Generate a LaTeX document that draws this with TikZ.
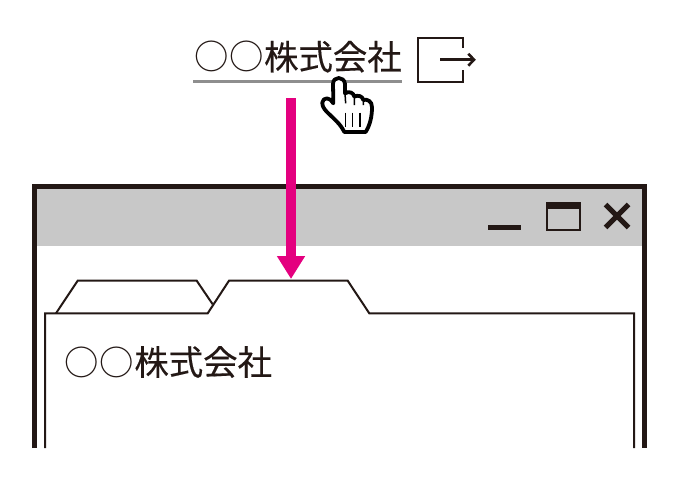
\documentclass[tikz,border=0pt]{standalone}
\usepackage{fontspec}
\newfontfamily\jpfont[FakeBold=0.35]{Noto Sans CJK JP}
\newfontfamily\jpcircle{Noto Sans CJK JP}
\usetikzlibrary{arrows.meta}
\definecolor{ink}{HTML}{231815}
\definecolor{barfill}{HTML}{C8C8C8}
\definecolor{linkline}{HTML}{8E8E8E}
\definecolor{magentaarrow}{HTML}{E4007F}
\tikzset{
  label text/.style={font=\fontsize{34.4}{36}\selectfont,text=ink,inner sep=0pt,anchor=center},
  thin ink/.style={draw=ink,line width=2pt,line join=miter},
  frame ink/.style={draw=ink,line width=5.3pt,line join=miter},
  icon ink/.style={draw=ink,line width=2pt},
  jump arrow/.style={draw=magentaarrow,line width=10.6pt,-{Triangle[length=23pt,width=26.7pt,fill=magentaarrow]}},
  hand outline/.style={draw=black,fill=white,line width=3.8pt,line join=round},
  hand crease/.style={draw=black,line width=1.5pt},
}
\newcommand{\companyname}{\kern-1pt{\jpcircle ○}\kern0.8pt{\jpcircle ○}\kern0.2pt{\jpfont 株式会社}}
\begin{document}
\begin{tikzpicture}[x=1pt,y=-1pt]
\useasboundingbox (0,0) rectangle (679,483);
% window
\fill[barfill] (37,189) rectangle (642,246.3);
\draw[frame ink] (34.7,448) -- (34.7,186.7) -- (644.3,186.7) -- (644.3,448);
% tabs
\draw[thin ink] (56,313.3) -- (77.7,280.7) -- (196.7,280.7) -- (212.7,304.3);
\draw[thin ink] (45,448) -- (45,313.3) -- (207.7,313.3) -- (229,280.7) -- (347.7,280.7) -- (369.3,313.3) -- (634,313.3) -- (634,448);
% window buttons
\fill[ink] (487.7,224.5) rectangle (520.7,230);
\draw[ink,line width=1.8pt] (546.9,203.2) rectangle (579.8,230.2);
\fill[ink] (546,202.3) rectangle (580.7,208.6);
\draw[ink,line width=5pt] (605.5,204.5) -- (628.5,227.5) (628.5,204.5) -- (605.5,227.5);
% link text
\node[label text] (link) at (298.5,56.7) {\companyname};
\node[label text] (page) at (168.8,362) {\companyname};
\draw[linkline,line width=3pt] (193,81) -- (401.7,81);
% external-link icon
\draw[icon ink] (462.7,48) -- (462.7,37.7) -- (418.3,37.7) -- (418.3,81.7) -- (462.7,81.7) -- (462.7,70);
\coordinate (exitstart) at (440,59.7);
\coordinate (exittip) at (474,59.7);
\draw[ink,line width=3.4pt] (exitstart) -- (exittip);
\draw[ink,line width=2.6pt,line join=miter] (468.3,53.7) -- (exittip) -- (468.3,65.7);
% arrow
\coordinate (arrowstart) at (291,98);
\coordinate (arrowend) at (291,279);
\draw[jump arrow] (arrowstart) -- (arrowend);
% hand
\begin{scope}[shift={(315,70)},x=0.3333pt,y=-0.3333pt]
\draw[hand outline] (55,92) -- (54,42) .. controls (54,18) and (88,18) .. (90,42) -- (90,70)
  .. controls (102,62) and (116,68) .. (118,80)
  .. controls (128,74) and (143,78) .. (145,90)
  .. controls (156,86) and (172,94) .. (171,112)
  .. controls (171,140) and (165,165) .. (152,186)
  -- (88,186)
  .. controls (75,160) and (58,148) .. (35,125)
  .. controls (15,105) and (20,85) .. (36,85)
  .. controls (44,85) and (50,92) .. (55,100) -- cycle;
\draw[hand crease] (90,70) -- (92,100) (118,80) -- (118,105) (145,90) -- (145,105);
\draw[hand crease] (92,128) -- (92,170) (113,128) -- (113,170) (135,128) -- (135,170);
\end{scope}
\end{tikzpicture}
\end{document}
